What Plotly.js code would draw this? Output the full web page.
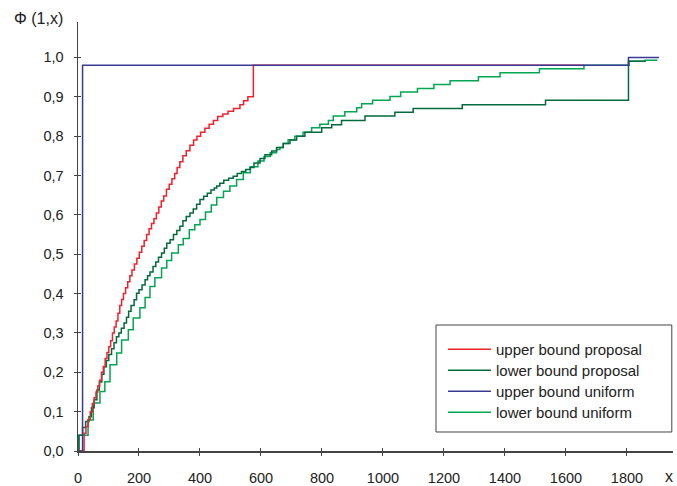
<!DOCTYPE html>
<html>
<head>
<meta charset="utf-8">
<script src="https://cdn.plot.ly/plotly-3.0.1.min.js"></script>
<style>html,body{margin:0;padding:0;background:#fff;}#chart{width:677px;height:486px;}</style>
</head>
<body>
<div id="chart"></div>
<script>
// Upper bound proposal (red)
var upperProposalX = [0,20,26,33,40,47,53,59,65,71,77,83,89,95,101,107,113,119,125,131,137,143,149,156,163,170,177,185,193,201,209,217,225,233,241,249,257,265,273,281,
  290,299,308,317,325,334,344,355,367,379,390,402,416,430,444,458,475,492,510,531,543,557,575,1660];
var upperProposalY = [0,0.045,0.062,0.08,0.1,0.12,0.135,0.15,0.165,0.18,0.2,0.215,0.235,0.25,0.265,0.28,0.3,0.315,0.33,0.35,0.37,0.385,0.4,0.415,0.43,0.445,0.46,0.475,0.49,0.505,0.52,0.535,0.55,0.565,0.578,0.59,0.605,0.62,0.635,0.648,
  0.665,0.678,0.692,0.705,0.72,0.735,0.75,0.763,0.777,0.79,0.8,0.81,0.82,0.83,0.84,0.85,0.856,0.863,0.87,0.88,0.89,0.9,0.98,0.98];

// Lower bound proposal (dark green)
var lowerProposalX = [0,3,15,25,36,44,53,62,70,78,85,93,101,110,118,126,134,142,151,159,166,174,184,192,200,210,220,228,236,246,
  255,264,274,283,291,302,313,324,334,344,355,367,378,389,400,412,424,436,447,455,465,478,494,509,522,536,550,564,577,597,
  613,635,651,673,695,717,744,799,832,864,941,1039,1099,1260,1533,1805,1860];
var lowerProposalY = [0,0.04,0.06,0.075,0.087,0.11,0.13,0.155,0.175,0.195,0.214,0.23,0.245,0.26,0.275,0.29,0.3,0.312,0.325,0.34,0.355,0.37,0.384,0.401,0.41,0.422,0.435,0.445,0.455,0.469,
  0.48,0.492,0.503,0.515,0.528,0.537,0.55,0.56,0.571,0.585,0.596,0.605,0.615,0.627,0.639,0.647,0.655,0.663,0.668,0.673,0.68,0.688,0.693,0.698,0.705,0.71,0.715,0.72,0.732,0.743,
  0.753,0.762,0.771,0.781,0.79,0.8,0.81,0.821,0.829,0.84,0.851,0.861,0.87,0.88,0.891,0.99,0.99];

// Upper bound uniform (blue)
var upperUniformX = [0,15,1805,1905];
var upperUniformY = [0,0.98,1.0,1.0];

// Lower bound uniform (light green)
var lowerUniformX = [0,3,33,50,72,88,105,127,143,165,181,203,220,236,252,274,291,307,329,345,365,383,400,418,437,455,477,498,520,542,
  565,590,610,630,651,662,673,689,711,738,766,793,821,837,875,914,930,966,1023,1058,1113,1167,1220,1313,1384,1513,1659,1807,1860,1900];
var lowerUniformY = [0,0.04,0.079,0.122,0.151,0.176,0.219,0.249,0.282,0.308,0.338,0.364,0.39,0.418,0.44,0.465,0.484,0.503,0.524,0.54,
  0.562,0.575,0.588,0.607,0.625,0.644,0.66,0.673,0.69,0.707,0.722,0.737,0.748,0.758,0.766,0.771,0.781,0.791,0.8,0.81,
  0.821,0.83,0.84,0.851,0.862,0.872,0.882,0.891,0.901,0.912,0.921,0.931,0.941,0.951,0.961,0.971,0.98,0.99,0.993,0.993];

var seriesNames = ['upper bound proposal','lower bound proposal','upper bound uniform','lower bound uniform'];
var xTicks = [0,200,400,600,800,1000,1200,1400,1600,1800];
var yTicks = [0,0.1,0.2,0.3,0.4,0.5,0.6,0.7,0.8,0.9,1.0];
var yTickText = ['0,0','0,1','0,2','0,3','0,4','0,5','0,6','0,7','0,8','0,9','1,0'];

var FONT = 'Liberation Sans, Arial, Helvetica, sans-serif';
var lw = 1.5;

var traces = [
  {x: lowerUniformX, y: lowerUniformY, name: seriesNames[3], legend: 'legend4', mode: 'lines', line: {shape: 'hv', color: '#00a650', width: lw}},
  {x: lowerProposalX, y: lowerProposalY, name: seriesNames[1], legend: 'legend2', mode: 'lines', line: {shape: 'hv', color: '#006b3c', width: lw}},
  {x: upperProposalX, y: upperProposalY, name: seriesNames[0], legend: 'legend', mode: 'lines', line: {shape: 'hv', color: '#f0202c', width: lw}},
  {x: upperUniformX, y: upperUniformY, name: seriesNames[2], legend: 'legend3', mode: 'lines', line: {shape: 'hv', color: '#3a3a96', width: lw}},
  {x: [0], y: [0], xaxis: 'x2', yaxis: 'y2', mode: 'markers', marker: {opacity: 0}, showlegend: false, hoverinfo: 'skip'}
];

var axisCommon = {showgrid: false, zeroline: false, showline: true, linecolor: '#444', linewidth: 1.5,
  ticks: 'outside', ticklen: 3, tickwidth: 1, tickcolor: '#444',
  tickfont: {family: FONT, size: 14.5, color: '#222'}};

function legendAt(yTop) {
  return {x: 0.6134, y: yTop, xanchor: 'left', yanchor: 'top', bgcolor: 'rgba(0,0,0,0)', borderwidth: 0,
    itemwidth: 43, font: {family: FONT, size: 15, color: '#222'}};
}

var layout = {
  width: 677, height: 486,
  margin: {l: 78, r: 4, t: 22, b: 35},
  paper_bgcolor: '#fff', plot_bgcolor: '#fff',
  showlegend: true,
  xaxis: Object.assign({}, axisCommon, {range: [0, 1951], tickmode: 'array', tickvals: xTicks, ticktext: xTicks.map(String), ticklabelstandoff: 10}),
  yaxis: Object.assign({}, axisCommon, {range: [0, 1.09], tickmode: 'array', tickvals: yTicks, ticktext: yTickText, ticklabelstandoff: 7}),
  xaxis2: {overlaying: 'x', range: [0, 1951], tickmode: 'array', tickvals: xTicks, showticklabels: false, ticks: 'inside', ticklen: 3, tickwidth: 1, tickcolor: '#444', showgrid: false, zeroline: false, showline: false},
  yaxis2: {overlaying: 'y', range: [0, 1.09], tickmode: 'array', tickvals: yTicks, showticklabels: false, ticks: 'inside', ticklen: 3, tickwidth: 1, tickcolor: '#444', showgrid: false, zeroline: false, showline: false},
  legend: legendAt(0.2751),
  legend2: legendAt(0.2261),
  legend3: legendAt(0.1772),
  legend4: legendAt(0.1282),
  shapes: [{type: 'rect', xref: 'paper', yref: 'paper', x0: 0.6017, x1: 0.998, y0: 0.0443, y1: 0.2937,
    line: {color: '#444', width: 1}, fillcolor: 'rgba(0,0,0,0)'}],
  annotations: [
    {text: 'Φ (1,x)', xref: 'paper', yref: 'paper', x: -0.067, y: 1.009, xanchor: 'center', yanchor: 'middle', showarrow: false, font: {family: FONT, size: 16, color: '#222'}},
    {text: 'x', xref: 'paper', yref: 'paper', x: 0.994, y: -0.06, xanchor: 'center', yanchor: 'middle', showarrow: false, font: {family: FONT, size: 16, color: '#222'}}
  ]
};

Plotly.newPlot('chart', traces, layout, {displayModeBar: false, staticPlot: true});
</script>
</body>
</html>
